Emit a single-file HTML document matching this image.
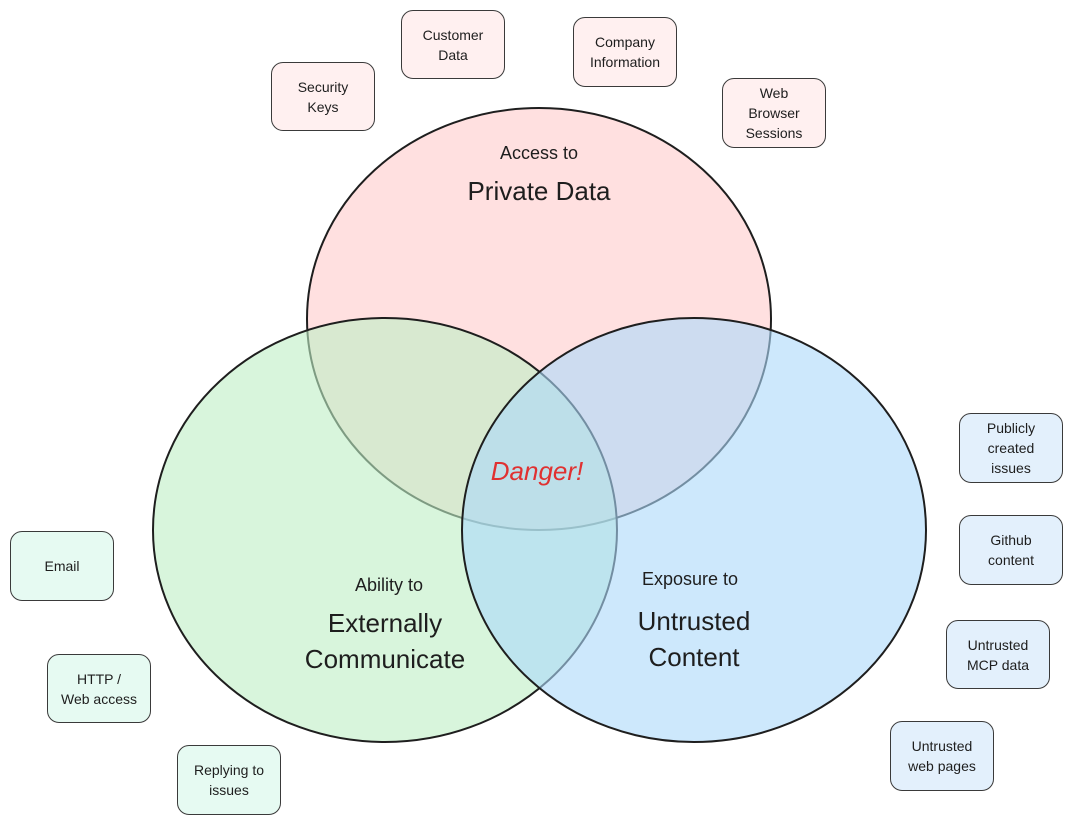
<!DOCTYPE html>
<html><head><meta charset="utf-8"><style>
html,body{margin:0;padding:0;background:#fff;}
body{width:1073px;height:826px;position:relative;overflow:hidden;font-family:"Liberation Sans",sans-serif;color:#1e1e1e;}
.b{position:absolute;width:104px;height:69px;border:1.6px solid #3a3a3a;border-radius:12px;display:flex;align-items:center;justify-content:center;text-align:center;font-size:14px;line-height:20px;box-sizing:border-box;}
.p{background:#fff0f0}.g{background:#e6faf2}.u{background:#e3f0fc}
.t{position:absolute;text-align:center;white-space:nowrap;}
</style></head><body>
<svg width="1073" height="826" style="position:absolute;left:0;top:0">
<ellipse cx="539" cy="319" rx="232" ry="211" fill="#ffe0e0" stroke="#1e1e1e" stroke-width="2"/>
<ellipse cx="385" cy="530" rx="232" ry="212" fill="rgb(190,238,197)" fill-opacity="0.6" stroke="#1e1e1e" stroke-width="2"/>
<ellipse cx="694" cy="530" rx="232" ry="212" fill="rgb(172,217,250)" fill-opacity="0.6" stroke="#1e1e1e" stroke-width="2"/>
</svg>
<div class="b p" style="left:271px;top:62px;">Security<br>Keys</div>
<div class="b p" style="left:401px;top:10px;">Customer<br>Data</div>
<div class="b p" style="left:573px;top:17px;height:70px;">Company<br>Information</div>
<div class="b p" style="left:722px;top:78px;height:70px;">Web<br>Browser<br>Sessions</div>
<div class="b u" style="left:959px;top:413px;height:70px;">Publicly<br>created<br>issues</div>
<div class="b u" style="left:959px;top:515px;height:70px;">Github<br>content</div>
<div class="b u" style="left:946px;top:620px;height:69px;">Untrusted<br>MCP data</div>
<div class="b u" style="left:890px;top:721px;height:70px;">Untrusted<br>web pages</div>
<div class="b g" style="left:10px;top:531px;height:70px;">Email</div>
<div class="b g" style="left:47px;top:654px;height:69px;">HTTP /<br>Web access</div>
<div class="b g" style="left:177px;top:745px;height:70px;">Replying to<br>issues</div>
<div class="t" style="left:439px;top:143px;width:200px;font-size:18px;">Access to</div>
<div class="t" style="left:389px;top:176px;width:300px;font-size:26px;">Private Data</div>
<div class="t" style="left:289px;top:575px;width:200px;font-size:18px;">Ability to</div>
<div class="t" style="left:235px;top:605px;width:300px;font-size:26px;line-height:36px;">Externally<br>Communicate</div>
<div class="t" style="left:590px;top:569px;width:200px;font-size:18px;">Exposure to</div>
<div class="t" style="left:544px;top:603px;width:300px;font-size:26px;line-height:36px;">Untrusted<br>Content</div>
<div class="t" style="left:437px;top:456px;width:200px;font-size:26px;color:#e03131;font-style:italic;">Danger!</div>
</body></html>
